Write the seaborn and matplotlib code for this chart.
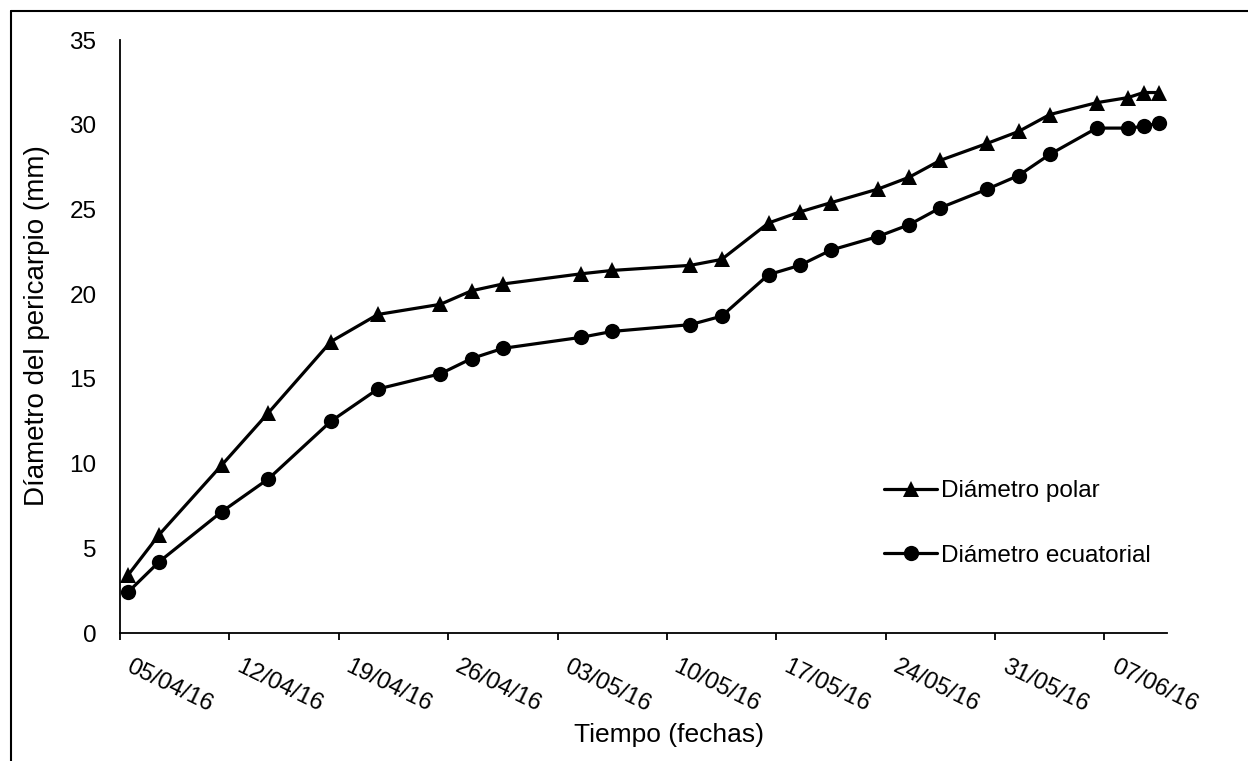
import matplotlib
matplotlib.use("Agg")
import matplotlib.pyplot as plt
from matplotlib.lines import Line2D
import seaborn as sns
import pandas as pd
import numpy as np

# ---- data ----
start_date = "2016-04-05"
day_offsets = [0, 2, 6, 9, 13, 16, 20, 22, 24, 29, 31, 36, 38, 41, 43, 45,
               48, 50, 52, 55, 57, 59, 62, 64, 65, 66]
polar = [3.4, 5.8, 9.9, 13.0, 17.2, 18.8, 19.4, 20.2, 20.6, 21.2, 21.4, 21.7,
         22.05, 24.2, 24.85, 25.4, 26.2, 26.9, 27.9, 28.9, 29.6, 30.6, 31.3,
         31.6, 31.9, 31.9]
ecuatorial = [2.4, 4.2, 7.15, 9.1, 12.5, 14.4, 15.3, 16.2, 16.8, 17.45, 17.8,
              18.2, 18.7, 21.15, 21.7, 22.6, 23.4, 24.1, 25.1, 26.2, 27.0,
              28.25, 29.8, 29.8, 29.9, 30.1]
series_names = ["Diámetro polar", "Diámetro ecuatorial"]
tick_step_days = 7
n_tick = 10
axis_days = 67

dates = pd.to_datetime(start_date) + pd.to_timedelta(day_offsets, unit="D")
df = pd.concat([
    pd.DataFrame({"fecha": dates, "valor": polar, "serie": series_names[0]}),
    pd.DataFrame({"fecha": dates, "valor": ecuatorial, "serie": series_names[1]}),
], ignore_index=True)
# Excel date axis: each date sits at the centre of its day slot
df["x"] = df["fecha"] + pd.Timedelta(hours=12)

sns.set_style("white")
plt.rcParams["font.family"] = ["Liberation Sans", "DejaVu Sans"]
plt.rcParams["text.color"] = "black"
plt.rcParams["axes.labelcolor"] = "black"
plt.rcParams["xtick.color"] = "black"
plt.rcParams["ytick.color"] = "black"

fig = plt.figure(figsize=(12.48, 7.61), dpi=100)
ax = fig.add_axes([120/1248, 1-633/761, (1167-120)/1248, (633-40)/761])

sns.lineplot(data=df, x="x", y="valor", style="serie", style_order=series_names,
             markers={series_names[0]: "^", series_names[1]: "o"}, dashes=False,
             color="black", linewidth=2.3, markersize=11, markeredgewidth=0,
             ax=ax)

t0 = pd.to_datetime(start_date)
ax.set_xlim(t0, t0 + pd.Timedelta(days=axis_days))
ax.set_ylim(0, 35)
tick_dates = [t0 + pd.Timedelta(days=tick_step_days*i) for i in range(n_tick)]
# tick marks at the day boundaries (minor), labels nudged slightly right (major)
ax.set_xticks(tick_dates, minor=True)
ax.set_xticks([d + pd.Timedelta(hours=20) for d in tick_dates])
ax.set_xticklabels([d.strftime("%d/%m/%y") for d in tick_dates],
                   rotation=-26, ha="left", va="top", rotation_mode="anchor")
ax.set_yticks(np.arange(0, 36, 5))

for s in ["top", "right"]:
    ax.spines[s].set_visible(False)
for s in ["left", "bottom"]:
    ax.spines[s].set_color("black")
    ax.spines[s].set_linewidth(1.3)

ax.tick_params(axis="x", which="minor", direction="out", length=5, width=1.3,
               color="black", bottom=True, labelbottom=False)
ax.tick_params(axis="x", which="major", length=0, labelsize=17.2, pad=16,
               bottom=True, labelcolor="black")
ax.tick_params(axis="y", length=0, labelsize=17.5, pad=17, labelcolor="black")

ax.set_xlabel("Tiempo (fechas)", fontsize=19, labelpad=5, color="black")
ax.xaxis.label.set_x((669-120)/(1167-120))
ax.set_ylabel("Díametro del pericarpio (mm)", fontsize=20, labelpad=14, color="black")
ax.yaxis.label.set_y((633-326)/(633-40))

leg = ax.legend(loc="upper left", bbox_to_anchor=(884/1248, 1-480/761),
                bbox_transform=fig.transFigure, frameon=False, fontsize=17.5,
                handlelength=2.2, handletextpad=0.15, labelspacing=1.75,
                borderaxespad=0, borderpad=0)
for t in leg.get_texts():
    t.set_color("black")

# outer frame of the original chart (left and top edges visible)
fig.add_artist(Line2D([11/1248, 11/1248], [0, 1-11/761], transform=fig.transFigure,
                      color="black", linewidth=1.5))
fig.add_artist(Line2D([11/1248, 1], [1-11/761, 1-11/761], transform=fig.transFigure,
                      color="black", linewidth=1.5))

fig.savefig("out.png", dpi=100, facecolor="white")
